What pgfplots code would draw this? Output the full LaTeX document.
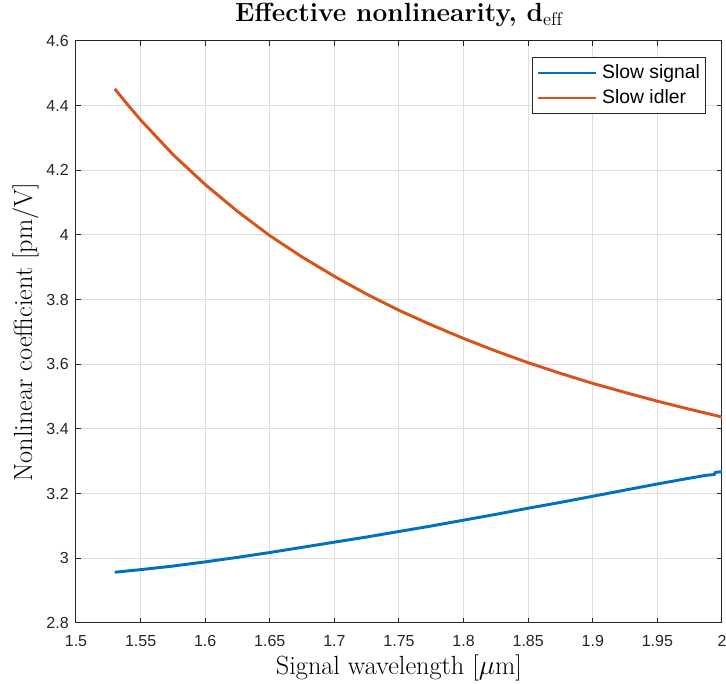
\documentclass[border=0pt]{standalone}
\usepackage{fontspec}
\usepackage{pgfplots}
\pgfplotsset{compat=1.18}
\newfontfamily\arial{Liberation Sans}
\definecolor{mblue}{rgb}{0,0.447,0.741}
\definecolor{morange}{rgb}{0.850,0.325,0.098}
\definecolor{axcol}{rgb}{0.15,0.15,0.15}
\definecolor{gridcol}{rgb}{0.87,0.87,0.87}
\begin{document}
\begin{tikzpicture}
\begin{axis}[
  scale only axis, width=484.5pt, height=436.5pt,
  xmin=1.5, xmax=2, ymin=2.8, ymax=4.6,
  xtick={1.5,1.55,1.6,1.65,1.7,1.75,1.8,1.85,1.9,1.95,2},
  xticklabels={1.5,1.55,1.6,1.65,1.7,1.75,1.8,1.85,1.9,1.95,2},
  ytick={2.8,3,3.2,3.4,3.6,3.8,4,4.2,4.4,4.6},
  yticklabels={2.8,3,3.2,3.4,3.6,3.8,4,4.2,4.4,4.6},
  tick align=inside, major tick length=4pt,
  tick style={axcol, line width=0.75pt},
  axis line style={axcol, line width=0.75pt},
  grid=major, major grid style={gridcol, line width=0.75pt},
  ticklabel style={font=\arial\fontsize{12}{14}\selectfont, text=axcol},
  xticklabel style={anchor=base, yshift=-18pt},
  yticklabel style={anchor=east, inner sep=0pt, xshift=-5.25pt},
  title={\textbf{Effective nonlinearity, d}$_{\mathrm{eff}}$},
  title style={font=\fontsize{19.7}{24}\selectfont, at={(axis description cs:0.5,1.0206)}, anchor=base},
  xlabel={Signal wavelength [$\mu$m]},
  xlabel style={font=\fontsize{19.7}{24}\selectfont, at={(axis description cs:0.5,-0.0893)}, anchor=base},
  ylabel={Nonlinear coefficient [pm/V]},
  ylabel style={font=\fontsize{19.7}{24}\selectfont, at={(axis description cs:-0.0681,0.5)}, anchor=base},
  legend style={at={(0.975,0.9725)}, anchor=north east, draw=axcol, line width=0.75pt,
    font=\arial\fontsize{14.5}{17}\selectfont, inner xsep=2.5pt, inner ysep=3.4pt,
    row sep=2.25pt, nodes={inner sep=1.5pt, text height=10.5pt, text depth=3pt}},
  legend cell align=left,
  legend image code/.code={\path (-3.75pt,0pt) -- (39.75pt,0pt);\draw[#1, line width=2.2pt] (0pt,0pt) -- (37.5pt,0pt);},
]
\addplot[mblue, line width=2.2pt] coordinates {
(1.530,2.957) (1.550,2.965) (1.575,2.976) (1.600,2.989) (1.625,3.003)
(1.650,3.018) (1.675,3.034) (1.700,3.050) (1.725,3.066) (1.750,3.083)
(1.775,3.100) (1.800,3.118) (1.825,3.136) (1.850,3.155) (1.875,3.173)
(1.900,3.192) (1.925,3.211) (1.950,3.230) (1.975,3.248) (1.988,3.257)
(1.994,3.259) (1.995,3.266) (2.000,3.268)
};
\addlegendentry{\hspace{2.25pt}Slow signal}
\addplot[morange, line width=2.2pt] coordinates {
(1.530,4.452) (1.540,4.403) (1.550,4.356) (1.575,4.249) (1.600,4.156)
(1.625,4.073) (1.650,3.998) (1.675,3.932) (1.700,3.872) (1.725,3.817)
(1.750,3.767) (1.775,3.722) (1.800,3.680) (1.825,3.641) (1.850,3.605)
(1.875,3.572) (1.900,3.541) (1.925,3.513) (1.950,3.486) (1.975,3.461)
(2.000,3.437)
};
\addlegendentry{\hspace{2.25pt}Slow idler}
\end{axis}
\pgfresetboundingbox
\path (-57pt,-45.75pt) rectangle (487.5pt,467.25pt);
\end{tikzpicture}
\end{document}
